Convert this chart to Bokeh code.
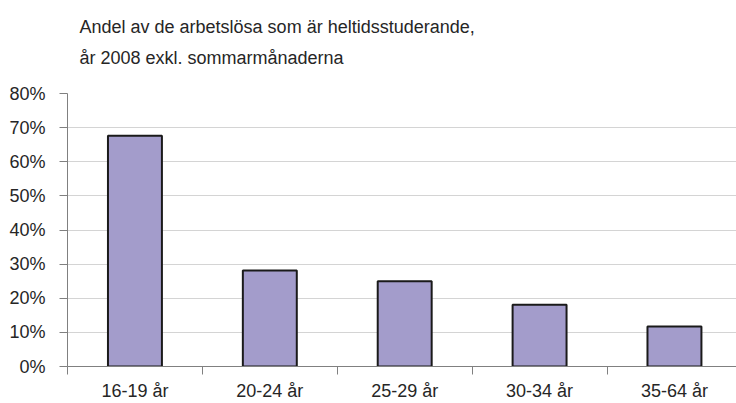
from bokeh.plotting import figure
from bokeh.models import Range1d, FixedTicker, NumeralTickFormatter, Title, ColumnDataSource
from bokeh.embed import file_html
from bokeh.resources import INLINE

categories = ["16-19 år", "20-24 år", "25-29 år", "30-34 år", "35-64 år"]
values = [0.676, 0.281, 0.250, 0.181, 0.117]
y_ticks = [0.0, 0.1, 0.2, 0.3, 0.4, 0.5, 0.6, 0.7, 0.8]
title_lines = ["Andel av de arbetslösa som är heltidsstuderande,", "år 2008 exkl. sommarmånaderna"]

FONT = "Liberation Sans"
TXT = "#262626"

xs = list(range(len(categories)))
src = ColumnDataSource(dict(x=xs, top=values))

p = figure(width=736, height=403, output_backend="svg", toolbar_location=None,
           x_range=Range1d(-0.5, 4.46), y_range=Range1d(0, 0.8),
           min_border_left=67, min_border_right=0, min_border_top=93, min_border_bottom=0)
p.outline_line_color = None
p.background_fill_color = "white"
p.border_fill_color = "white"

p.vbar(x="x", top="top", width=0.4, bottom=0, source=src,
       fill_color="#A39CCB", line_color="#1a1a1a", line_width=2)

# y axis
p.yaxis.ticker = FixedTicker(ticks=y_ticks)
p.yaxis.formatter = NumeralTickFormatter(format="0%")
p.yaxis.axis_line_color = "#808080"
p.yaxis.major_tick_line_color = "#808080"
p.yaxis.major_tick_in = 0
p.yaxis.major_tick_out = 8
p.yaxis.minor_tick_line_color = None
p.yaxis.major_label_text_font = FONT
p.yaxis.major_label_text_font_size = "18px"
p.yaxis.major_label_text_color = TXT
p.yaxis.major_label_standoff = 14

# x axis
p.xaxis.ticker = FixedTicker(ticks=xs, minor_ticks=[i - 0.5 for i in range(len(categories) + 1)])
p.xaxis.major_label_overrides = {i: c for i, c in enumerate(categories)}
p.xaxis.axis_line_color = "#808080"
p.xaxis.major_tick_line_color = None
p.xaxis.minor_tick_line_color = "#808080"
p.xaxis.minor_tick_in = 0
p.xaxis.minor_tick_out = 8
p.xaxis.major_tick_in = 0
p.xaxis.major_tick_out = 0
p.xaxis.major_label_text_font = FONT
p.xaxis.major_label_text_font_size = "18px"
p.xaxis.major_label_text_color = TXT
p.xaxis.major_label_standoff = 6

p.xgrid.grid_line_color = None
p.ygrid.grid_line_color = "#d4d4d4"
p.ygrid.grid_line_width = 1

# titles (first added sits closest to the plot); a blank spacer keeps them clear of the frame
p.add_layout(Title(text=" ", text_font_size="1px", standoff=18), "above")
p.add_layout(Title(text=title_lines[1], align="left", offset=12, text_font=FONT,
                   text_font_size="18px", text_font_style="normal", text_color=TXT,
                   standoff=9), "above")
p.add_layout(Title(text=title_lines[0], align="left", offset=12, text_font=FONT,
                   text_font_size="18px", text_font_style="normal", text_color=TXT,
                   standoff=9), "above")

open("out.html", "w").write(file_html(p, INLINE))
